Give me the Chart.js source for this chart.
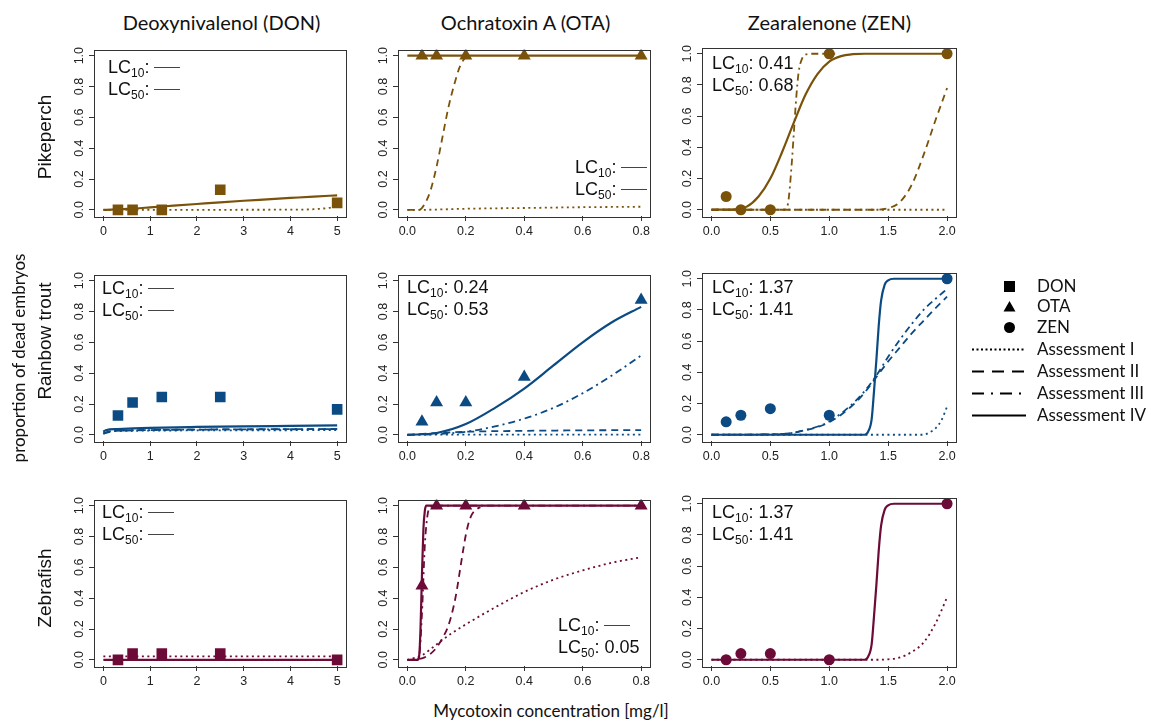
<!DOCTYPE html>
<html>
<head>
<meta charset="utf-8">
<script src="https://cdn.jsdelivr.net/npm/chart.js@4.4.0/dist/chart.umd.min.js"></script>
<style>
  body { margin: 0; background: #fff; }
  #page { position: relative; width: 1151px; height: 722px; overflow: hidden; background: #fff; color: #111; }
  canvas.panel { position: absolute; }
  .txt { position: absolute; white-space: nowrap; }
  .title { font: 20px Lato, "Open Sans", sans-serif; transform: translate(-50%, -50%); }
  .row { font: 19px "Liberation Sans", Arial, sans-serif; transform: translate(-50%, -50%) rotate(-90deg); }
  .ylab { font: 17px Lato, sans-serif; transform: translate(-50%, -50%) rotate(-90deg); }
  .xlab { font: 17px Lato, sans-serif; transform: translate(-50%, -50%); }
  .lc { font: 18px "Liberation Sans", Arial, sans-serif; line-height: 22px; color: #111; }
  .lc sub { font-size: 12px; vertical-align: -4px; line-height: 0; }
  .lc .na { display: inline-block; width: 26px; border-top: 1px solid #444; vertical-align: 5px; margin-left: 5px; }
  .leg { font: 17px Lato, sans-serif; line-height: 20px; }
</style>
</head>
<body>
<div id="page"></div>
<script>
// ---- doses and ticks ----
const donDoses = [0.3125, 0.625, 1.25, 2.5, 5];
const otaDoses = [0.05, 0.1, 0.2, 0.4, 0.8];
const zenDoses = [0.125, 0.25, 0.5, 1, 2];
const donTicks = [0, 1, 2, 3, 4, 5];
const otaTicks = [0, 0.2, 0.4, 0.6, 0.8];
const zenTicks = [0, 0.5, 1, 1.5, 2];
const yTicks = [0, 0.2, 0.4, 0.6, 0.8, 1];

const toxins = ["Deoxynivalenol (DON)", "Ochratoxin A (OTA)", "Zearalenone (ZEN)"];
const species = ["Pikeperch", "Rainbow trout", "Zebrafish"];

// ---- observed proportion of dead embryos ----
const pikeDonObs = [0, 0, 0, 0.13, 0.045];
const pikeOtaObs = [1, 1, 1, 1, 1];
const pikeZenObs = [0.085, 0, 0, 1, 1];
const troutDonObs = [0.125, 0.21, 0.245, 0.245, 0.165];
const troutOtaObs = [0.085, 0.21, 0.21, 0.375, 0.875];
const troutZenObs = [0.083, 0.125, 0.167, 0.125, 1];
const zebraDonObs = [0, 0.04, 0.04, 0.04, 0];
const zebraOtaObs = [0.48, 1, 1, 1, 1];
const zebraZenObs = [0, 0.04, 0.04, 0, 1];

// ---- fitted curves, [conc, proportion] ----
const pikeDonI = [[0, 0], [4, 0.001], [4.5, 0.004], [4.8, 0.012], [5, 0.022]];
const pikeDonIV = [[0, 0], [0.5, 0.006], [1, 0.016], [1.5, 0.027], [2, 0.038], [2.5, 0.049], [3, 0.059], [3.5, 0.068], [4, 0.077], [4.5, 0.086], [5, 0.094]];

const pikeOtaI = [[0, 0], [0.04, 0], [0.2, 0.007], [0.4, 0.012], [0.6, 0.017], [0.8, 0.02]];
const pikeOtaII = [[0, 0], [0.04, 0], [0.06, 0.04], [0.08, 0.13], [0.1, 0.28], [0.12, 0.47], [0.14, 0.66], [0.16, 0.81], [0.18, 0.93], [0.2, 0.99], [0.21, 1]];
const pikeOtaIV = [[0, 1], [0.8, 1]];

const pikeZenI = [[0, 0], [2, 0]];
const pikeZenII = [[0, 0], [1.4, 0], [1.5, 0.01], [1.6, 0.05], [1.7, 0.16], [1.8, 0.35], [1.9, 0.57], [2, 0.78]];
const pikeZenIII = [[0, 0], [0.62, 0], [0.65, 0.04], [0.68, 0.28], [0.7, 0.5], [0.72, 0.72], [0.74, 0.88], [0.77, 0.97], [0.8, 0.995], [0.85, 1], [1.05, 1]];
const pikeZenIV = [[0, 0], [0.2, 0.003], [0.3, 0.02], [0.4, 0.085], [0.5, 0.2], [0.6, 0.37], [0.7, 0.56], [0.8, 0.74], [0.9, 0.87], [1, 0.95], [1.1, 0.985], [1.2, 0.997], [1.3, 1], [2, 1]];

const troutDonI = [[0, 0.015], [0.2, 0.025], [5, 0.03]];
const troutDonII = [[0, 0.005], [0.1, 0.02], [0.5, 0.028], [1, 0.031], [2, 0.034], [3, 0.036], [5, 0.038]];
const troutDonIII = [[0, 0.01], [0.3, 0.026], [1, 0.031], [2, 0.034], [5, 0.037]];
const troutDonIV = [[0, 0.02], [0.05, 0.03], [0.3, 0.037], [1, 0.045], [2, 0.051], [3, 0.055], [4, 0.058], [5, 0.061]];

const troutOtaI = [[0, 0.002], [0.8, 0.002]];
const troutOtaII = [[0, 0], [0.1, 0.012], [0.2, 0.02], [0.4, 0.026], [0.6, 0.029], [0.8, 0.031]];
const troutOtaIII = [[0, 0], [0.1, 0.005], [0.2, 0.02], [0.3, 0.055], [0.4, 0.105], [0.5, 0.175], [0.6, 0.27], [0.7, 0.385], [0.8, 0.515]];
const troutOtaIV = [[0, 0], [0.1, 0.012], [0.2, 0.07], [0.3, 0.175], [0.4, 0.3], [0.5, 0.45], [0.6, 0.6], [0.7, 0.73], [0.8, 0.83]];

const troutZenI = [[0, 0], [1.8, 0], [1.85, 0.015], [1.9, 0.04], [1.95, 0.09], [2, 0.18]];
const troutZenII = [[0, 0], [0.6, 0.005], [0.8, 0.03], [1, 0.08], [1.2, 0.19], [1.3, 0.27], [1.4, 0.37], [1.5, 0.47], [1.6, 0.56], [1.7, 0.65], [1.8, 0.73], [1.9, 0.81], [2, 0.885]];
const troutZenIII = [[0, 0], [0.6, 0.005], [0.8, 0.03], [1, 0.085], [1.2, 0.2], [1.3, 0.28], [1.4, 0.38], [1.5, 0.5], [1.6, 0.61], [1.7, 0.71], [1.8, 0.8], [1.9, 0.87], [2, 0.935]];
const troutZenIV = [[0, 0], [1.3, 0], [1.33, 0.02], [1.36, 0.1], [1.38, 0.28], [1.4, 0.48], [1.42, 0.7], [1.44, 0.86], [1.47, 0.96], [1.5, 0.99], [1.55, 1], [2, 1]];

const zebraDonI = [[0, 0.023], [5, 0.023]];
const zebraDonIV = [[0, 0], [5, 0]];

const zebraOtaI = [[0, 0], [0.05, 0.03], [0.1, 0.1], [0.15, 0.17], [0.2, 0.23], [0.3, 0.34], [0.4, 0.44], [0.5, 0.52], [0.6, 0.58], [0.7, 0.63], [0.8, 0.665]];
const zebraOtaII = [[0, 0], [0.05, 0.01], [0.08, 0.04], [0.1, 0.08], [0.12, 0.14], [0.14, 0.22], [0.16, 0.36], [0.17, 0.46], [0.18, 0.58], [0.19, 0.7], [0.2, 0.81], [0.21, 0.89], [0.22, 0.94], [0.24, 0.98], [0.25, 0.99]];
const zebraOtaIII = [[0, 0], [0.03, 0], [0.04, 0.02], [0.05, 0.3], [0.06, 0.75], [0.07, 0.95], [0.08, 0.99], [0.09, 1], [0.8, 1]];
const zebraOtaIV = [[0, 0], [0.035, 0], [0.04, 0.02], [0.045, 0.2], [0.05, 0.55], [0.055, 0.85], [0.06, 0.97], [0.065, 1], [0.8, 1]];

const zebraZenI = [[0, 0], [1.4, 0], [1.5, 0.003], [1.6, 0.015], [1.7, 0.05], [1.8, 0.11], [1.9, 0.23], [2, 0.4]];
const zebraZenIV = [[0, 0], [1.3, 0], [1.33, 0.02], [1.36, 0.1], [1.38, 0.28], [1.4, 0.48], [1.42, 0.7], [1.44, 0.86], [1.47, 0.96], [1.5, 0.99], [1.55, 1], [2, 1]];

// ---- styling ----
const speciesColors = ["#7a520a", "#0b4a82", "#6c0b37"];
const markers = ["rect", "triangle", "circle"];
const markerRadius = [7.5, 7.5, 5.5];
const dashes = { I: [2, 3.5], II: [7, 5], III: [7, 4, 2, 4], IV: [] };

const colLeft = [94, 398, 702];
const rowTop = [47, 272, 497];
const boxW = 255, boxH = 169;
const padL = 40, padT = 5, padR = 5, padB = 30;

const page = document.getElementById("page");

function addText(cls, html, x, y) {
    const d = document.createElement("div");
    d.className = "txt " + cls;
    d.innerHTML = html;
    d.style.left = x + "px";
    d.style.top = y + "px";
    page.appendChild(d);
    return d;
}

// box around plot + rotated y tick labels, like base R
const rBox = {
    id: "rBox",
    afterDraw(chart) {
        const { ctx, chartArea: a } = chart;
        const ys = chart.scales.y;
        ctx.save();
        ctx.strokeStyle = "#333";
        ctx.lineWidth = 1;
        ctx.strokeRect(Math.round(a.left) + 0.5, Math.round(a.top) + 0.5, Math.round(a.width) - 1, Math.round(a.height));
        ctx.fillStyle = "#222";
        ctx.font = "12.5px 'Liberation Sans', Arial, sans-serif";
        ctx.textAlign = "center";
        ctx.textBaseline = "middle";
        yTicks.forEach(v => {
            const py = ys.getPixelForValue(v);
            ctx.save();
            ctx.translate(a.left - 14, py);
            ctx.rotate(-Math.PI / 2);
            ctx.fillText(v.toFixed(1), 0, 0);
            ctx.restore();
        });
        ctx.restore();
    }
};

function curveSet(points, kind, color) {
    return {
        data: points.map(p => ({ x: p[0], y: p[1] })),
        showLine: true,
        pointRadius: 0,
        borderColor: color,
        borderWidth: kind === "IV" ? 2.2 : 1.8,
        borderDash: dashes[kind],
        cubicInterpolationMode: "monotone",
        fill: false
    };
}

function makePanel(row, col, xTicks, xDigits, doses, obs, curves) {
    const color = speciesColors[row];
    const cv = document.createElement("canvas");
    cv.className = "panel";
    cv.width = padL + boxW + padR;
    cv.height = padT + boxH + padB;
    cv.style.left = (colLeft[col] - padL) + "px";
    cv.style.top = (rowTop[row] - padT) + "px";
    page.appendChild(cv);

    const xMax = xTicks[xTicks.length - 1];
    const datasets = [{
        data: doses.map((d, i) => ({ x: d, y: obs[i] })),
        pointStyle: markers[col],
        pointRadius: markerRadius[col],
        pointBackgroundColor: color,
        pointBorderColor: color,
        pointBorderWidth: 0,
        showLine: false
    }];
    Object.keys(curves).forEach(k => datasets.push(curveSet(curves[k], k, color)));

    new Chart(cv, {
        type: "scatter",
        data: { datasets },
        options: {
            responsive: false,
            animation: false,
            devicePixelRatio: 1,
            layout: { padding: { left: 0, top: padT, right: padR, bottom: 0 } },
            plugins: { legend: { display: false }, tooltip: { enabled: false } },
            scales: {
                x: {
                    type: "linear",
                    min: -0.04 * xMax,
                    max: 1.04 * xMax,
                    afterBuildTicks: s => { s.ticks = xTicks.map(v => ({ value: v })); },
                    afterFit: s => { s.height = padB; },
                    ticks: {
                        color: "#222",
                        padding: 3,
                        font: { family: "'Liberation Sans', Arial, sans-serif", size: 12.5 },
                        callback: v => v.toFixed(xDigits)
                    },
                    grid: { drawOnChartArea: false, color: "#333", tickLength: 5 },
                    border: { display: false }
                },
                y: {
                    min: -0.04,
                    max: 1.04,
                    afterBuildTicks: s => { s.ticks = yTicks.map(v => ({ value: v })); },
                    afterFit: s => { s.width = padL; },
                    ticks: { display: false },
                    grid: { drawOnChartArea: false, color: "#333", tickLength: 5 },
                    border: { display: false }
                }
            }
        },
        plugins: [rBox]
    });
}

// row 0: pikeperch
makePanel(0, 0, donTicks, 0, donDoses, pikeDonObs, { I: pikeDonI, IV: pikeDonIV });
makePanel(0, 1, otaTicks, 1, otaDoses, pikeOtaObs, { I: pikeOtaI, II: pikeOtaII, IV: pikeOtaIV });
makePanel(0, 2, zenTicks, 1, zenDoses, pikeZenObs, { I: pikeZenI, II: pikeZenII, III: pikeZenIII, IV: pikeZenIV });
// row 1: rainbow trout
makePanel(1, 0, donTicks, 0, donDoses, troutDonObs, { I: troutDonI, II: troutDonII, III: troutDonIII, IV: troutDonIV });
makePanel(1, 1, otaTicks, 1, otaDoses, troutOtaObs, { I: troutOtaI, II: troutOtaII, III: troutOtaIII, IV: troutOtaIV });
makePanel(1, 2, zenTicks, 1, zenDoses, troutZenObs, { I: troutZenI, II: troutZenII, III: troutZenIII, IV: troutZenIV });
// row 2: zebrafish
makePanel(2, 0, donTicks, 0, donDoses, zebraDonObs, { I: zebraDonI, IV: zebraDonIV });
makePanel(2, 1, otaTicks, 1, otaDoses, zebraOtaObs, { I: zebraOtaI, II: zebraOtaII, III: zebraOtaIII, IV: zebraOtaIV });
makePanel(2, 2, zenTicks, 1, zenDoses, zebraZenObs, { I: zebraZenI, IV: zebraZenIV });

// ---- titles and axis labels ----
toxins.forEach((t, c) => addText("title", t, colLeft[c] + boxW / 2, 22));
const rowLabelY = [137, 341, 588];
species.forEach((s, r) => addText("row", s, 45, rowLabelY[r]));
addText("ylab", "proportion of dead embryos", 18, 358);
addText("xlab", "Mycotoxin concentration [mg/l]", 551, 710);

// ---- LC10 / LC50 annotations ----
const lcText = [
    [null, null], [null, null], ["0.41", "0.68"],
    [null, null], ["0.24", "0.53"], ["1.37", "1.41"],
    [null, null], [null, "0.05"], ["1.37", "1.41"]
];
const lcPos = [
    [108, 67], [575, 167], [712, 63],
    [102, 288], [407, 287], [712, 287],
    [102, 512], [558, 625], [712, 512]
];
lcText.forEach((vals, i) => {
    ["10", "50"].forEach((sub, j) => {
        const v = vals[j];
        const html = "LC<sub>" + sub + "</sub>:" + (v === null ? "<span class='na'></span>" : " " + v);
        addText("lc", html, lcPos[i][0], lcPos[i][1] - 11 + j * 22);
    });
});

// ---- legend ----
const legendY = [286, 306, 327, 349, 371, 393, 415];
const legendLabels = ["DON", "OTA", "ZEN", "Assessment I", "Assessment II", "Assessment III", "Assessment IV"];
const legendSymbols = [
    "<rect x='36' y='3' width='11' height='11' fill='#000'/>",
    "<polygon points='41.5,3 47.5,13.5 35.5,13.5' fill='#000'/>",
    "<circle cx='41.5' cy='8.5' r='5.5' fill='#000'/>",
    "<line x1='4' y1='8.5' x2='58' y2='8.5' stroke='#000' stroke-width='1.8' stroke-dasharray='2 2.5'/>",
    "<line x1='4' y1='8.5' x2='58' y2='8.5' stroke='#000' stroke-width='2.2' stroke-dasharray='12 8'/>",
    "<line x1='4' y1='8.5' x2='58' y2='8.5' stroke='#000' stroke-width='2.2' stroke-dasharray='12 7 2 7'/>",
    "<line x1='4' y1='8.5' x2='58' y2='8.5' stroke='#000' stroke-width='2.2'/>"
];
legendLabels.forEach((lab, i) => {
    const d = document.createElement("div");
    d.className = "txt";
    d.style.left = "968px";
    d.style.top = (legendY[i] - 8.5) + "px";
    d.innerHTML = "<svg width='60' height='17'>" + legendSymbols[i] + "</svg>";
    page.appendChild(d);
    addText("leg", lab, 1037, legendY[i] - 10);
});
</script>
</body>
</html>
